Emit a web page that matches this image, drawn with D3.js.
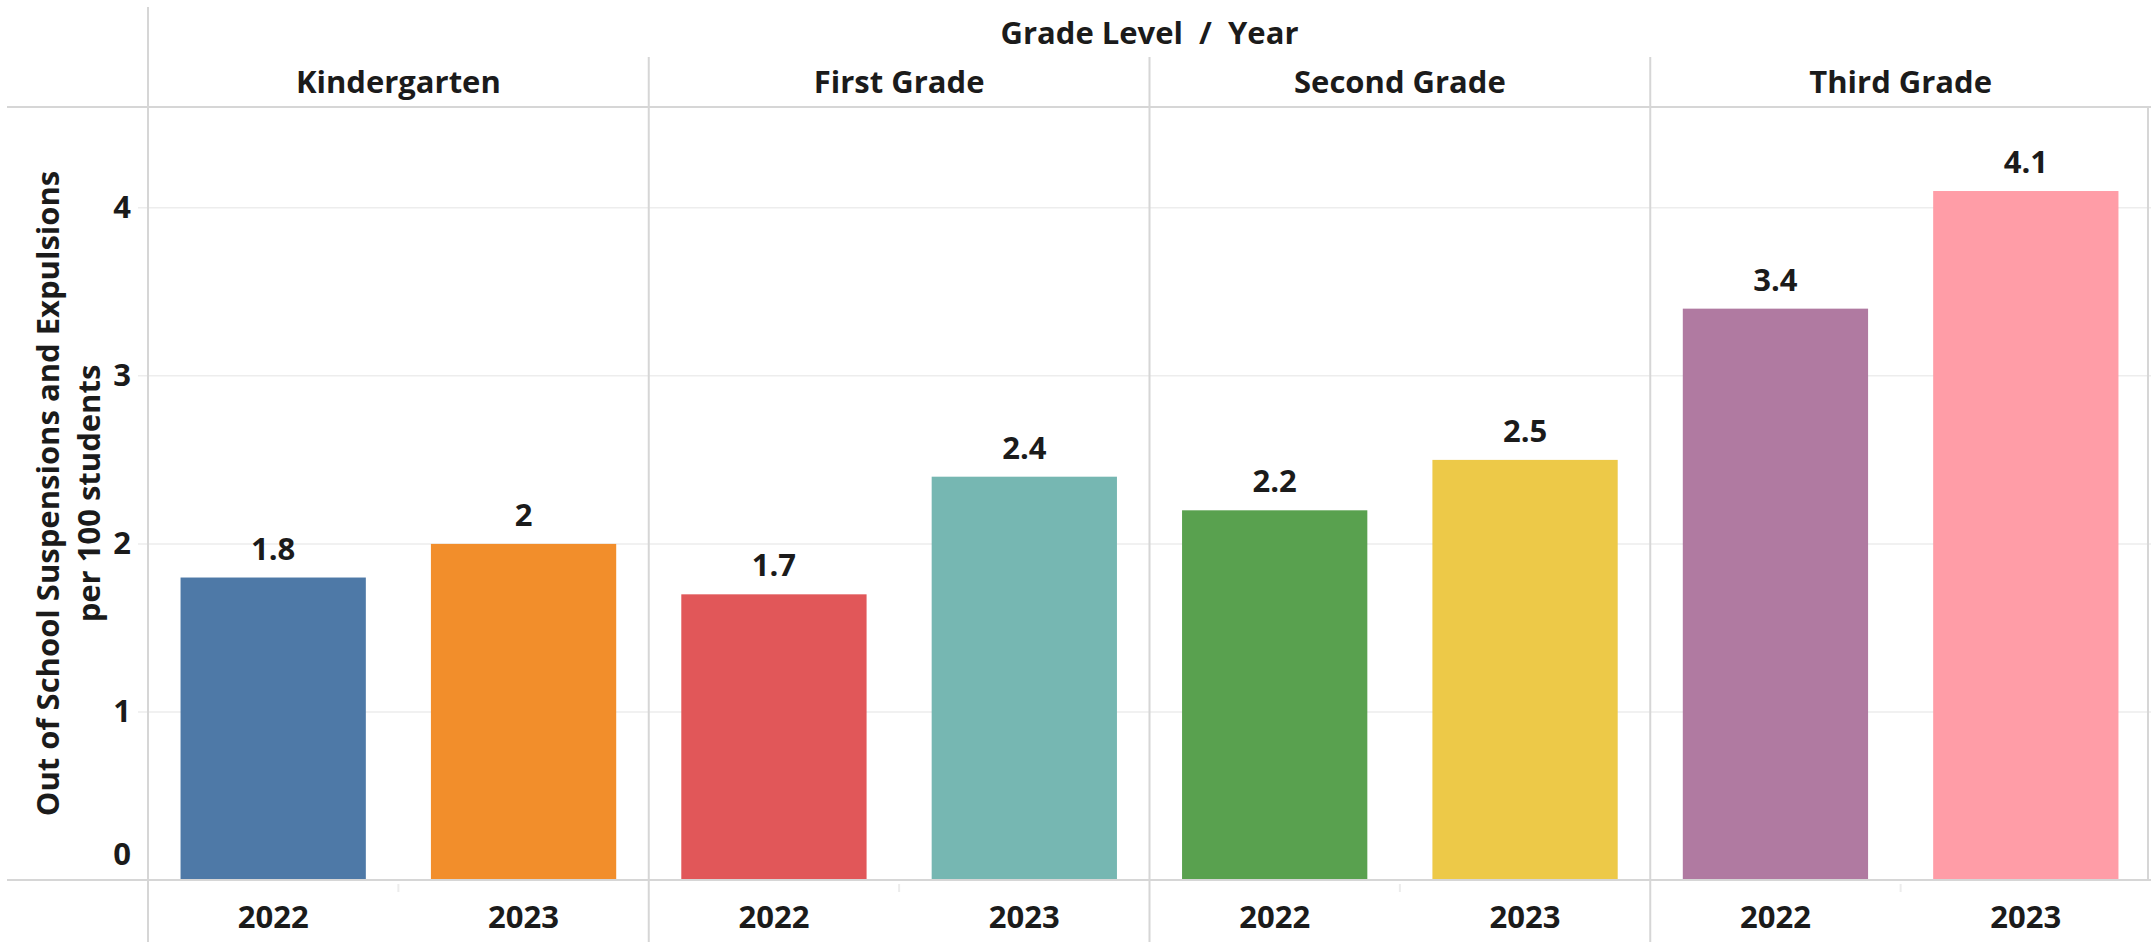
<!DOCTYPE html>
<html>
<head>
<meta charset="utf-8">
<script src="https://cdn.jsdelivr.net/npm/d3@7"></script>
<style>
  html, body { margin: 0; padding: 0; background: #fff; }
  svg text { font-family: "Open Sans", "Noto Sans", sans-serif; font-weight: 700; fill: #1b1b1b; }
</style>
</head>
<body>
<div id="chart"></div>
<script>
// chart data
var grades = ["Kindergarten", "First Grade", "Second Grade", "Third Grade"];
var years = ["2022", "2023"];
var values2022 = [1.8, 1.7, 2.2, 3.4];
var values2023 = [2, 2.4, 2.5, 4.1];
var barColors = ["#4e79a7", "#f28e2b", "#e15759", "#76b7b2", "#59a14f", "#edc948", "#b07aa1", "#ff9da7"];
var yTicks = [0, 1, 2, 3, 4];
var yTitle = ["Out of School Suspensions and Expulsions", "per 100 students"];
var headerTitle = "Grade Level  /  Year";

(function () {
  var width = 2151;
  var height = 947;

  var left = 148, right = 2151;
  var top = 107, base = 880;

  var svg = d3.select("#chart")
    .append("svg")
    .attr("width", width)
    .attr("height", height)

  // flatten rows for drawing
  var rows = [];
  grades.forEach(function (g, i) {
    rows.push({ grade: g, year: years[0], value: values2022[i], color: barColors[i * 2] });
    rows.push({ grade: g, year: years[1], value: values2023[i], color: barColors[i * 2 + 1] });
  });

  var x0 = d3.scaleBand().domain(grades).range([left, right]).padding(0)
  var x1 = d3.scaleBand().domain(years).range([0, x0.bandwidth()])
    .paddingInner(0.26).paddingOuter(0.13)
  var y = d3.scaleLinear().domain([0, 4.6]).range([base, top])

  var lineColor = "#d6d6d6";

  // gridlines
  svg.append("g")
    .selectAll("line")
    .data(yTicks.filter(function (d) { return d > 0; }))
    .enter().append("line")
    .attr("x1", left - 10).attr("x2", right)
    .attr("y1", function (d) { return y(d); })
    .attr("y2", function (d) { return y(d); })
    .attr("stroke", "#ededed")
    .attr("stroke-width", 1.5)

  // y axis labels (zero label sits above the baseline, like Tableau)
  var yAxis = svg.append("g")
    .attr("transform", "translate(" + 134 + ",0)")
    .call(d3.axisLeft(y).tickValues(yTicks).tickSize(0).tickFormat(d3.format("d")))
  yAxis.select(".domain").remove()
  yAxis.selectAll("text")
    .attr("x", -12)
    .attr("dy", function (d) { return d === 0 ? "-0.5em" : "0.32em"; })
    .attr("text-anchor", "middle")
    .style("font-size", "31px")
    .style("font-family", "'Open Sans', sans-serif")
    .style("font-weight", 700)
    .attr("fill", "#1b1b1b")

  // bars
  var panels = svg.append("g")
    .selectAll(".panel")
    .data(grades)
    .enter().append("g")
    .attr("class", "panel")
    .attr("transform", function (d) { return "translate(" + x0(d) + ",0)"; })

  panels.selectAll("rect")
    .data(function (g) { return rows.filter(function (r) { return r.grade === g; }); })
    .enter().append("rect")
    .attr("x", function (d) { return x1(d.year); })
    .attr("width", x1.bandwidth())
    .attr("y", function (d) { return y(d.value); })
    .attr("height", function (d) { return base - y(d.value); })
    .attr("fill", function (d) { return d.color; })

  // value labels
  panels.selectAll(".val")
    .data(function (g) { return rows.filter(function (r) { return r.grade === g; }); })
    .enter().append("text")
    .attr("class", "val")
    .attr("x", function (d) { return x1(d.year) + x1.bandwidth() / 2; })
    .attr("y", function (d) { return y(d.value) - 18; })
    .attr("text-anchor", "middle")
    .style("font-size", "31px")
    .text(function (d) { return String(d.value); })

  // year labels
  panels.selectAll(".yr")
    .data(years)
    .enter().append("text")
    .attr("class", "yr")
    .attr("x", function (d) { return x1(d) + x1.bandwidth() / 2; })
    .attr("y", 928)
    .attr("text-anchor", "middle")
    .style("font-size", "31px")
    .text(function (d) { return d; })

  // small tick between years
  panels.append("line")
    .attr("x1", x0.bandwidth() / 2).attr("x2", x0.bandwidth() / 2)
    .attr("y1", base + 4).attr("y2", base + 12)
    .attr("stroke", "#ececec").attr("stroke-width", 2)

  // panel headers
  panels.append("text")
    .attr("x", x0.bandwidth() / 2)
    .attr("y", 93)
    .attr("text-anchor", "middle")
    .style("font-size", "31px")
    .text(function (d) { return d; })

  // header title
  svg.append("text")
    .attr("x", (left + right) / 2)
    .attr("y", 44)
    .attr("text-anchor", "middle")
    .style("white-space", "pre")
    .attr("xml:space", "preserve")
    .style("font-size", "31px")
    .text(headerTitle)

  // frame lines
  var frame = svg.append("g").attr("stroke", lineColor).attr("stroke-width", 2)
  frame.append("line").attr("x1", 7).attr("x2", width).attr("y1", top).attr("y2", top)
  frame.append("line").attr("x1", 7).attr("x2", width).attr("y1", base).attr("y2", base)
  frame.append("line").attr("x1", left).attr("x2", left).attr("y1", 7).attr("y2", 942)
  frame.append("line").attr("x1", right - 3).attr("x2", right - 3).attr("y1", top).attr("y2", base)

  frame.selectAll(".sep")
    .data(grades.slice(1))
    .enter().append("line")
    .attr("class", "sep")
    .attr("x1", function (d) { return x0(d); })
    .attr("x2", function (d) { return x0(d); })
    .attr("y1", 57).attr("y2", 942)

  // y axis title
  svg.append("g")
    .attr("transform", "translate(0," + ((top + base) / 2) + ") rotate(-90)")
    .selectAll("text")
    .data(yTitle)
    .enter().append("text")
    .attr("x", 0)
    .attr("y", function (d, i) { return 59 + i * 41; })
    .attr("text-anchor", "middle")
    .style("font-size", "31px")
    .text(function (d) { return d; })

})();
</script>
</body>
</html>
